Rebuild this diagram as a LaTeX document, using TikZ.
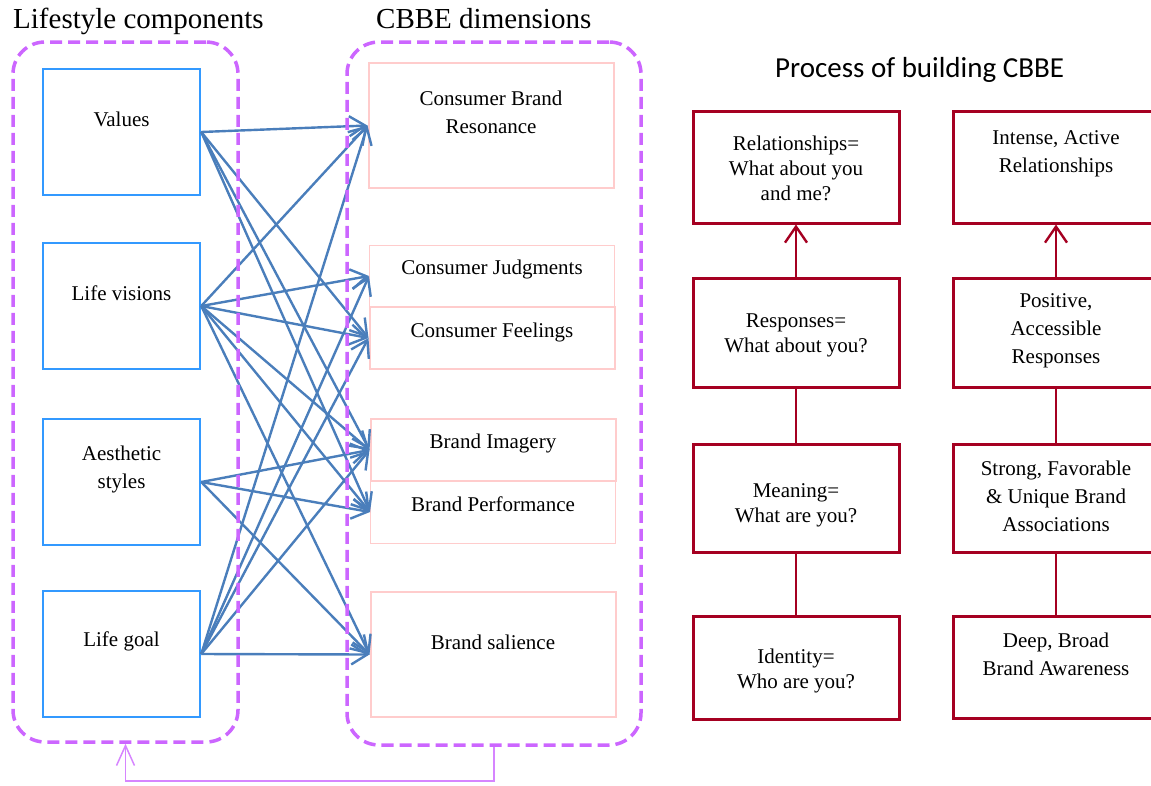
\documentclass[tikz,border=0pt]{standalone}
\usepackage{fontspec}
\setmainfont{Liberation Serif}
\newfontfamily\ttlsans{Carlito}
\usetikzlibrary{arrows.meta,positioning}
\definecolor{grpviolet}{HTML}{CC66FF}
\definecolor{lsblue}{HTML}{3399FF}
\definecolor{lnkblue}{HTML}{4A7EBB}
\definecolor{dimpink}{HTML}{FFCCCC}
\definecolor{cbbered}{HTML}{A50021}

\begin{document}
\begin{tikzpicture}[x=1pt,y=-1pt,
  lsbox/.style={draw=lsblue,line width=2.5pt,minimum width=157,minimum height=126},
  dimbox/.style={draw=dimpink,minimum width=245},
  redbox/.style={draw=cbbered,line width=3pt,minimum width=206},
  txt/.style={font=\fontsize{21}{28}\selectfont,align=center,inner sep=0},
  ttl/.style={font=\fontsize{29}{34}\selectfont,anchor=base west,inner sep=0},
  lnk/.style={draw=lnkblue,line width=2.4pt,-{Straight Barb[length=16pt,width=20pt]}},
  grp/.style={draw=grpviolet,line width=3.5pt,dash pattern=on 12pt off 6pt,rounded corners=32pt},
  fbk/.style={draw=grpviolet!80,line width=1.5pt,-{Straight Barb[length=20pt,width=18pt]}},
  redlnk/.style={draw=cbbered,line width=2.4pt}]
  \useasboundingbox (0,0) rectangle (1151,785); % 図全体の範囲
  \node[ttl] (ttlLs) at (13,28) {Lifestyle components}; % 左の見出し
  \node[ttl] (ttlDim) at (376,28) {CBBE dimensions}; % 中央の見出し
  \node[ttl,font=\ttlsans\fontsize{29}{34}\selectfont] (ttlPrc) at (775,77) {Process of building CBBE}; % 右の見出し
  % ライフスタイルの構成要素（青い枠）
  \node[lsbox] (val) at (121.5,132) {};
  \node[lsbox] (vis) at (121.5,306) {};
  \node[lsbox] (aes) at (121.5,482) {};
  \node[lsbox] (gol) at (121.5,654) {};
  \node[txt] (valT) at ([yshift=13]val.center) {Values};
  \node[txt] (visT) at ([yshift=13]vis.center) {Life visions};
  \node[txt] (aesT) at ([yshift=13]aes.center) {Aesthetic\\styles};
  \node[txt] (golT) at ([yshift=13]gol.center) {Life goal};
  % CBBEの次元（薄い赤の枠，細い線を先に描く）
  \node[dimbox,line width=1pt,minimum height=62] (jud) at (492,276) {};
  \node[dimbox,line width=1pt,minimum height=62] (prf) at (493,512) {};
  \node[dimbox,line width=2pt,minimum height=125] (res) at (491,125.5) {};
  \node[dimbox,line width=2pt,minimum height=62] (fel) at (492,338) {};
  \node[dimbox,line width=2pt,minimum height=62] (img) at (493,450) {};
  \node[dimbox,line width=2pt,minimum height=125] (sal) at (493,654.5) {};
  \node[txt] (resT) at ([yshift=13]res.center) {Consumer Brand\\Resonance};
  \node[txt] (judT) at ([yshift=6.5]jud.center) {Consumer Judgments};
  \node[txt] (felT) at ([yshift=5.5]fel.center) {Consumer Feelings};
  \node[txt] (imgT) at ([yshift=6.5]img.center) {Brand Imagery};
  \node[txt] (prfT) at ([yshift=7.5]prf.center) {Brand Performance};
  \node[txt] (salT) at ([yshift=12.5]sal.center) {Brand salience};
  % 構成要素から次元への矢印
  \foreach \src/\dst in {val/res,val/fel,val/img,val/prf,
                         vis/res,vis/jud,vis/fel,vis/img,vis/prf,vis/sal,
                         aes/img,aes/prf,aes/sal,
                         gol/res,gol/jud,gol/fel,gol/img,gol/sal}
    \draw[lnk] (\src.east) -- (\dst.west);
  % 破線の角丸枠と下の戻り矢印
  \node[grp,minimum width=225,minimum height=700] (grpL) at (125.5,392) {};
  \node[grp,minimum width=294,minimum height=703] (grpR) at (494,393.5) {};
  \draw[fbk] (grpR.south) -- ++(0,34) -| (grpL.south);
  % CBBE構築のプロセス（左列）
  \node[redbox,minimum height=112] (rel) at (796,167) {};
  \node[redbox,minimum height=109] (rsp) at (796,332.5) {};
  \node[redbox,minimum height=108] (mng) at (796,498) {};
  \node[redbox,minimum height=103] (idn) at (796,667.5) {};
  \node[txt,font=\fontsize{21}{25}\selectfont] (relT) at ([yshift=-1]rel.center) {Relationships=\\What about you\\and me?};
  \node[txt,font=\fontsize{21}{25}\selectfont] (rspT) at ([yshift=-3]rsp.center) {Responses=\\What about you?};
  \node[txt,font=\fontsize{21}{25}\selectfont] (mngT) at ([yshift=-7]mng.center) {Meaning=\\What are you?};
  \node[txt,font=\fontsize{21}{25}\selectfont] (idnT) at ([yshift=-3]idn.center) {Identity=\\Who are you?};
  % 右列
  \node[redbox,minimum height=112] (rlr) at (1056,167) {};
  \node[redbox,minimum height=109] (rrs) at (1056,332.5) {};
  \node[redbox,minimum height=108] (ras) at (1056,498) {};
  \node[redbox,minimum height=102] (raw) at (1056,667) {};
  \node[txt] (rlrT) at ([yshift=13]rlr.center) {Intense, Active\\Relationships};
  \node[txt] (rrsT) at ([yshift=2]rrs.center) {Positive,\\Accessible\\Responses};
  \node[txt] (rasT) at ([yshift=2]ras.center) {Strong, Favorable\\\& Unique Brand\\Associations};
  \node[txt] (rawT) at ([yshift=13]raw.center) {Deep, Broad\\Brand Awareness};
  % 段をつなぐ線
  \draw[redlnk,-{Straight Barb[length=16pt,width=22pt]}] (rsp) -- (rel);
  \draw[redlnk] (mng) -- (rsp);
  \draw[redlnk] (idn) -- (mng);
  \draw[redlnk,-{Straight Barb[length=16pt,width=22pt]}] (rrs) -- (rlr);
  \draw[redlnk] (ras) -- (rrs);
  \draw[redlnk] (raw) -- (ras);
\end{tikzpicture}
\end{document}
